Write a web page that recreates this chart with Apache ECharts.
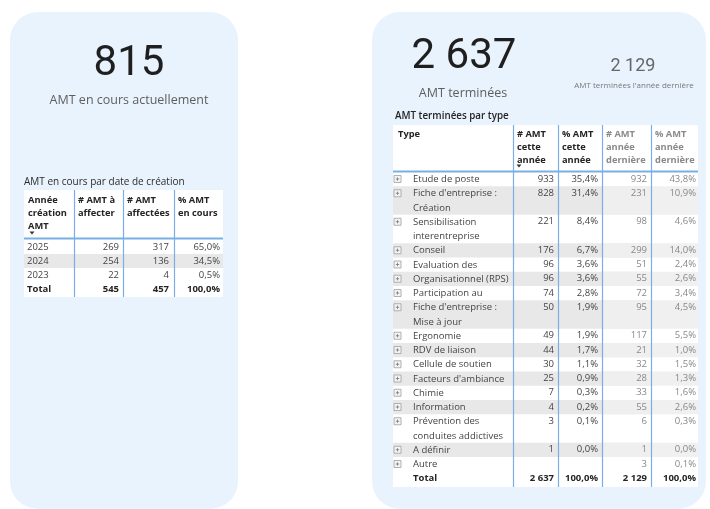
<!DOCTYPE html>
<html><head><meta charset="utf-8">
<script src="https://cdn.jsdelivr.net/npm/echarts@6/dist/echarts.min.js"></script>
<style>html,body{margin:0;padding:0;background:#fff}#c{width:710px;height:509px}</style>
</head><body><div id="c"></div>
<script>
// ---- data ----
const kpiEnCours = 815;
const kpiEnCoursLabel = 'AMT en cours actuellement';
const kpiTerminees = 2637;
const kpiTermineesLabel = 'AMT terminées';
const kpiAnneeDerniere = 2129;
const kpiAnneeDerniereLabel = "AMT terminées l'année dernière";

const leftTitle = 'AMT en cours par date de création';
const leftHeaders = ['Année\ncréation\nAMT', '# AMT à\naffecter', '# AMT\naffectées', '% AMT\nen cours'];
const years = ['2025', '2024', '2023'];
const amtAAffecter = [269, 254, 22];
const amtAffectees = [317, 136, 4];
const pctEnCours = ['65,0%', '34,5%', '0,5%'];
const leftTotal = ['Total', 545, 457, '100,0%'];

const rightTitle = 'AMT terminées par type';
const rightHeaders = ['Type', '# AMT\ncette\nannée', '% AMT\ncette\nannée', '# AMT\nannée\ndernière', '% AMT\nannée\ndernière'];
const types = ['Etude de poste', "Fiche d'entreprise :\nCréation", 'Sensibilisation\ninterentreprise', 'Conseil', 'Evaluation des', 'Organisationnel (RPS)', 'Participation au', "Fiche d'entreprise :\nMise à jour", 'Ergonomie', 'RDV de liaison', 'Cellule de soutien', "Facteurs d'ambiance", 'Chimie', 'Information', 'Prévention des\nconduites addictives', 'A définir', 'Autre'];
const amtCetteAnnee = [933, 828, 221, 176, 96, 96, 74, 50, 49, 44, 30, 25, 7, 4, 3, 1, null];
const pctCetteAnnee = ['35,4%', '31,4%', '8,4%', '6,7%', '3,6%', '3,6%', '2,8%', '1,9%', '1,9%', '1,7%', '1,1%', '0,9%', '0,3%', '0,2%', '0,1%', '0,0%', ''];
const amtAnneeDerniere = [932, 231, 98, 299, 51, 55, 72, 95, 117, 21, 32, 28, 33, 55, 6, 1, 3];
const pctAnneeDerniere = ['43,8%', '10,9%', '4,6%', '14,0%', '2,4%', '2,6%', '3,4%', '4,5%', '5,5%', '1,0%', '1,5%', '1,3%', '1,6%', '2,6%', '0,3%', '0,0%', '0,1%'];
const rightTotal = ['Total', 2637, '100,0%', 2129, '100,0%'];

// ---- helpers ----
const FONT = '"Open Sans", "Noto Sans", sans-serif';
const fmt = v => (v === null || v === undefined) ? '' : (typeof v === 'number' ? String(v).replace(/\B(?=(\d{3})+(?!\d))/g, ' ') : v);
const G = [];
function txt(x, y, text, size, opt) {
  opt = opt || {};
  G.push({type: 'text', x: x, y: y, silent: true, z: 10, style: {
    text: text, fill: opt.color || '#333', font: (opt.weight || 'normal') + ' ' + size + 'px ' + (opt.family || FONT),
    align: opt.align || 'left', verticalAlign: opt.valign || 'middle', lineHeight: opt.lh || undefined
  }});
}
function rect(x, y, w, h, fill, r, z) {
  G.push({type: 'rect', silent: true, z: z || 1, shape: {x: x, y: y, width: w, height: h, r: r || 0}, style: {fill: fill}});
}
function line(x1, y1, x2, y2, stroke, lw, z) {
  G.push({type: 'line', silent: true, z: z || 5, shape: {x1: x1, y1: y1, x2: x2, y2: y2}, style: {stroke: stroke, lineWidth: lw || 1}});
}
function arrow(x, y) {
  G.push({type: 'polygon', silent: true, z: 10, shape: {points: [[x - 2.5, y - 1.5], [x + 2.5, y - 1.5], [x, y + 1.5]]}, style: {fill: '#333'}});
}
function expander(x, y) {
  G.push({type: 'rect', silent: true, z: 9, shape: {x: x, y: y - 3.5, width: 7, height: 7}, style: {fill: '#f4f4f4', stroke: '#a0a0a0', lineWidth: 0.8}});
  line(x + 1.8, y, x + 5.2, y, '#777', 0.8, 10);
  line(x + 3.5, y - 1.7, x + 3.5, y + 1.7, '#777', 0.8, 10);
}

// ---- cards ----
const CARD = '#e9f3fd';
rect(10, 12, 228, 497, CARD, 28, 0);
rect(372, 12, 334, 497, CARD, 28, 0);

// ---- KPIs ----
const NUMFONT = 'Roboto, "DejaVu Sans", sans-serif';
txt(129, 64, fmt(kpiEnCours), 42, {color: '#1f1f1f', align: 'center', family: NUMFONT});
txt(129, 100, kpiEnCoursLabel, 12.5, {color: '#605e5c', align: 'center'});
txt(464, 57, fmt(kpiTerminees), 42, {color: '#1f1f1f', align: 'center', family: NUMFONT});
txt(463, 93, kpiTermineesLabel, 12.5, {color: '#605e5c', align: 'center'});
txt(633, 66, fmt(kpiAnneeDerniere), 18, {color: '#666', align: 'center', family: NUMFONT});
txt(634, 86, kpiAnneeDerniereLabel, 8, {color: '#777', align: 'center'});

// ---- left table ----
const BLUE = '#78afe6';
const GRAY = '#e8e8e8';
const lCols = [24, 74, 123, 174, 223];
txt(24, 182, leftTitle, 10, {color: '#2b2b2b'});
rect(24, 190, 199, 107, '#ffffff', 0, 2);
leftHeaders.forEach((h, i) => txt(lCols[i] + 4, 194, h, 9.3, {weight: 'bold', color: '#252423', valign: 'top', lh: 13}));
arrow(32, 233);
line(24, 238.5, 223, 238.5, BLUE, 2);
[74, 123, 174].forEach(x => line(x + 0.5, 190, x + 0.5, 297, BLUE, 1.2));
const lRowY = [247, 261, 275];
years.forEach((yr, i) => {
  const cy = lRowY[i];
  if (i % 2 === 1) rect(24, cy - 7, 199, 14, GRAY, 0, 3);
  txt(27, cy, yr, 9.5, {color: '#444'});
  txt(119, cy, fmt(amtAAffecter[i]), 9.5, {color: '#444', align: 'right'});
  txt(169, cy, fmt(amtAffectees[i]), 9.5, {color: '#444', align: 'right'});
  txt(220, cy, pctEnCours[i], 9.5, {color: '#444', align: 'right'});
});
txt(27, 289, leftTotal[0], 9.5, {weight: 'bold', color: '#252423'});
txt(119, 289, fmt(leftTotal[1]), 9.5, {weight: 'bold', color: '#252423', align: 'right'});
txt(169, 289, fmt(leftTotal[2]), 9.5, {weight: 'bold', color: '#252423', align: 'right'});
txt(220, 289, leftTotal[3], 9.5, {weight: 'bold', color: '#252423', align: 'right'});

// ---- right table ----
const rCols = [393, 513, 558, 602, 651, 698];
txt(395, 116, rightTitle, 9.8, {weight: '600', color: '#252423'});
rect(393, 125, 305, 362, '#ffffff', 0, 2);
rightHeaders.forEach((h, i) => txt((i === 0 ? 398 : rCols[i] + 4), 128, h, 9.3, {weight: 'bold', color: i >= 3 ? '#8a8a8a' : '#252423', valign: 'top', lh: 13}));
arrow(519, 166);
line(393, 171.5, 698, 171.5, BLUE, 2);
[513, 558, 602, 651].forEach(x => line(x + 0.5, 125, x + 0.5, 487, BLUE, 1.2));
const STEP = 14.25;
let li = 0;
types.forEach((t, i) => {
  const cy = 179 + li * STEP;
  const n = t.split('\n').length;
  if (i % 2 === 1) {
    rect(393, cy - 7.1, 258, n * STEP, GRAY, 0, 3);
    rect(651, cy - 7.1, 47, n * STEP, '#f0f0f0', 0, 3);
    rect(602, cy - 7.1, 49, n * STEP, '#efefef', 0, 3);
  }
  expander(394, cy);
  txt(413, cy - 6.8, t, 9.5, {color: '#444', valign: 'top', lh: STEP});
  txt(554, cy, fmt(amtCetteAnnee[i]), 9.5, {color: '#444', align: 'right'});
  txt(598, cy, pctCetteAnnee[i], 9.5, {color: '#444', align: 'right'});
  txt(647, cy, fmt(amtAnneeDerniere[i]), 9.5, {color: '#888', align: 'right'});
  txt(696, cy, pctAnneeDerniere[i], 9.5, {color: '#888', align: 'right'});
  li += n;
});
const ty = 179 + li * STEP;
txt(413, ty, rightTotal[0], 9.5, {weight: 'bold', color: '#252423'});
txt(554, ty, fmt(rightTotal[1]), 9.5, {weight: 'bold', color: '#252423', align: 'right'});
txt(598, ty, rightTotal[2], 9.5, {weight: 'bold', color: '#252423', align: 'right'});
txt(647, ty, fmt(rightTotal[3]), 9.5, {weight: 'bold', color: '#252423', align: 'right'});
txt(696, ty, rightTotal[4], 9.5, {weight: 'bold', color: '#252423', align: 'right'});

const chart = echarts.init(document.getElementById('c'), null, {renderer: 'canvas'});
chart.setOption({animation: false, backgroundColor: '#ffffff', graphic: {elements: G}});
</script></body></html>
